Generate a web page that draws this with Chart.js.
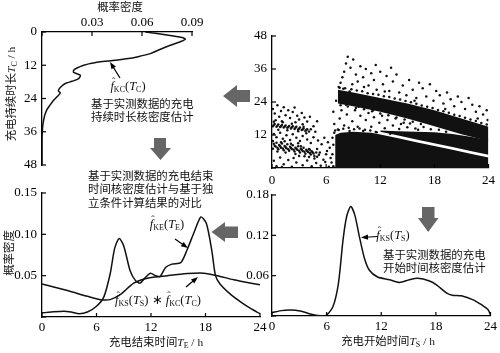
<!DOCTYPE html>
<html>
<head>
<meta charset="utf-8">
<script src="https://cdn.jsdelivr.net/npm/chart.js@4.4.0/dist/chart.umd.min.js"></script>
<style>
body { margin: 0; background: #fff; }
#wrap { position: relative; width: 500px; height: 353px; overflow: hidden; color: #111;
        font-family: "Liberation Serif", "Noto Sans CJK SC", serif; }
#wrap canvas { position: absolute; left: 0; top: 0; }
.t { position: absolute; white-space: nowrap; font-size: 11.4px; line-height: 13.3px; }
.c { transform: translate(-50%, -50%); }
.rot { transform: translate(-50%, -50%) rotate(-90deg); }
.m { font-size: 12.5px; }
sub { font-size: 8px; vertical-align: -2px; line-height: 0; }
.hat { position: relative; display: inline-block; font-style: italic; }
.hat::before { content: "\02C6"; position: absolute; left: 1.5px; top: -5px; font-size: 10px; font-style: normal; }
</style>
</head>
<body>
<div id="wrap">
  <canvas id="c1" width="500" height="353"></canvas>
  <canvas id="c2" width="500" height="353"></canvas>
  <canvas id="c3" width="500" height="353"></canvas>
  <canvas id="c4" width="500" height="353"></canvas>
  <canvas id="ov" width="500" height="353"></canvas>

  <div class="t c" style="left:120px;top:8px;">概率密度</div>
  <div class="t rot" style="left:12px;top:94px;">充电持续时长<i>T</i><sub>C</sub> / h</div>
  <div class="t c m" style="left:128px;top:87px;"><span class="hat">f</span><sub>KC</sub>(<i>T</i><sub>C</sub>)</div>
  <div class="t" style="left:91px;top:98px;">基于实测数据的充电<br>持续时长核密度估计</div>
  <div class="t" style="left:88px;top:170px;">基于实测数据的充电结束<br>时间核密度估计与基于独<br>立条件计算结果的对比</div>

  <div class="t rot" style="left:10px;top:253px;">概率密度</div>
  <div class="t c m" style="left:167px;top:225px;"><span class="hat">f</span><sub>KE</sub>(<i>T</i><sub>E</sub>)</div>
  <div class="t c m" style="left:158px;top:301px;"><span class="hat">f</span><sub>KS</sub>(<i>T</i><sub>S</sub>) ∗ <span class="hat">f</span><sub>KC</sub>(<i>T</i><sub>C</sub>)</div>
  <div class="t c" style="left:156px;top:343px;">充电结束时间<i>T</i><sub>E</sub> / h</div>

  <div class="t c m" style="left:393px;top:236px;"><span class="hat">f</span><sub>KS</sub>(<i>T</i><sub>S</sub>)</div>
  <div class="t" style="left:383px;top:249px;">基于实测数据的充电<br>开始时间核密度估计</div>
  <div class="t c" style="left:388px;top:342px;">充电开始时间<i>T</i><sub>S</sub> / h</div>
</div>

<script>
// charging duration density (top left, drawn sideways)
const kcTime = [0, 1, 2, 2.6, 3.5, 4.8, 6.5, 7.8, 9, 9.6, 10.2, 10.8, 11.5, 12, 13, 13.8, 14.6, 15.6, 16.8, 17.8, 18.6, 20, 21.2, 22, 23.4, 24.6, 26.4, 28.2, 30.6, 34.2, 39, 48];
const kcDensity = [0.062, 0.074, 0.084, 0.086, 0.083, 0.077, 0.070, 0.065, 0.057, 0.052, 0.044, 0.034, 0.028, 0.025, 0.021, 0.019, 0.019, 0.023, 0.022, 0.018, 0.014, 0.011, 0.0098, 0.011, 0.009, 0.007, 0.0048, 0.0028, 0.0014, 0.0004, 0, 0];

// charging end time: measured kernel estimate and independent-condition result
const keTime = [0, 1, 2.4, 3.2, 4.1, 5.0, 6.0, 6.8, 7.5, 8.0, 8.5, 9.0, 9.7, 10.3, 10.8, 11.4, 11.95, 12.5, 13.0, 13.6, 14.3, 15.3, 16.0, 16.8, 17.5, 18.1, 18.7, 19.1, 19.6, 20.8, 21.9, 23.0, 24];
const keDensity = [0.005, 0.006, 0.007, 0.006, 0.004, 0.006, 0.013, 0.024, 0.052, 0.083, 0.095, 0.086, 0.056, 0.044, 0.041, 0.048, 0.053, 0.050, 0.049, 0.060, 0.064, 0.066, 0.082, 0.104, 0.121, 0.113, 0.080, 0.050, 0.040, 0.027, 0.018, 0.010, 0.004];
const convTime = [0, 2.8, 5.0, 6.4, 7.5, 8.6, 10.1, 11.6, 13.8, 16, 17.8, 19.3, 21.1, 24];
const convDensity = [0.040, 0.032, 0.025, 0.021, 0.021, 0.027, 0.041, 0.047, 0.050, 0.0525, 0.053, 0.050, 0.045, 0.039];

// charging start time density (bottom right)
const ksTime = [0, 1, 2.0, 3.1, 4.2, 5.3, 6.0, 6.7, 7.3, 7.8, 8.2, 8.65, 9.1, 9.6, 10.15, 10.7, 11.6, 12.9, 14.0, 15.1, 16.0, 17.3, 18.1, 19.2, 19.8, 20.8, 22.1, 23.1, 23.7, 24];
const ksDensity = [0.005, 0.008, 0.009, 0.0075, 0.003, 0.0005, 0.0015, 0.014, 0.049, 0.113, 0.148, 0.163, 0.150, 0.118, 0.086, 0.068, 0.058, 0.054, 0.050, 0.054, 0.056, 0.052, 0.046, 0.034, 0.031, 0.030, 0.024, 0.016, 0.010, 0.0015];

// scatter (start time, duration): dense regions as outlines, loose points as pairs
const bottomMassTime = [7, 7.6, 9, 11, 12, 14, 16, 18, 20, 22, 24];
const bottomMassTop = [12.0, 12.8, 13.2, 12.8, 12.2, 10.8, 9.4, 8.0, 6.6, 5.2, 3.8];
const midBandTime = [12, 14, 16, 18, 20, 22, 24];
const midBandLow = [13.2, 11.8, 10.4, 9.0, 7.6, 6.2, 4.8];
const midBandHigh = [13.6, 13.4, 13.2, 13.0, 12.4, 11.4, 10.2];
const mainBandTime = [7.3, 9, 12, 15, 18, 21, 24];
const mainBandLow = [23.5, 22.5, 20.5, 18.0, 15.2, 12.3, 9.8];
const mainBandHigh = [28.5, 27.5, 25.5, 23.5, 21.0, 18.0, 15.0];

const leftBandDots = [
  [0.1,15.2],[0.3,16.0],[0.5,15.0],[0.7,15.8],[0.9,14.9],[1.1,15.6],[1.3,14.7],[1.5,15.5],[1.7,14.6],[1.9,15.3],
  [2.1,14.4],[2.3,15.2],[2.5,14.2],[2.7,15.0],[2.9,14.0],[3.1,14.7],[3.3,13.8],[3.5,14.4],[3.7,13.5],[3.9,14.1],
  [4.1,13.3],[0.2,15.6],[0.6,15.4],[1.0,15.2],[1.4,15.0],[1.8,14.9],[2.2,14.8],[2.6,14.6],[3.0,14.3],[3.4,14.0],
  [3.8,13.8],
  [0.1,7.0],[0.2,8.8],[0.4,7.8],[0.5,9.2],[0.7,6.8],[0.8,8.4],[1.0,7.4],[1.1,8.9],[1.3,6.5],[1.4,8.0],
  [1.6,7.2],[1.7,8.6],[1.9,6.3],[2.0,7.7],[2.2,6.9],[2.3,8.3],[2.5,6.0],[2.6,7.4],[2.8,6.6],[2.9,7.9],
  [3.1,5.6],[3.2,7.0],[3.4,6.2],[3.5,7.4],[3.7,5.2],[3.8,6.6],[4.0,5.8],[4.1,6.9],[4.3,4.9],[4.4,6.1],
  [4.6,5.3],[4.7,4.4],[4.9,5.6],[5.0,4.1],[5.2,4.8],[0.3,8.1],[0.9,7.9],[1.5,7.6],[2.1,7.3],[2.7,7.0],
  [3.3,6.6],[3.9,6.2],[4.5,5.7],[0.6,7.4],[1.2,7.1],[1.8,6.8],[2.4,6.6],[3.0,6.3],[3.6,5.9],[4.2,5.5]
];
const looseLeft = [
  [0.1,21.5],[0.3,19.8],[0.6,22.8],[0.8,18.6],[1.0,20.7],[1.3,22.1],[1.5,19.2],[1.8,21.0],[2.0,18.2],[2.3,20.4],
  [2.5,22.0],[2.8,19.0],[3.0,17.6],[3.3,20.0],[3.6,18.4],[3.9,16.9],[4.2,18.6],[0.4,17.4],[1.1,17.0],[2.6,16.6],
  [3.4,15.9],[4.6,15.2],[5.0,17.0],[4.8,13.2],[0.2,16.8],[0.7,13.9],[1.2,16.6],[1.7,13.7],[2.2,16.1],[2.9,13.4],
  [3.5,15.0],[3.8,12.6],[4.3,14.1],[0.2,12.4],[0.5,11.2],[0.9,12.8],[1.2,10.6],[1.6,11.9],[2.0,10.2],[2.3,12.3],
  [2.7,11.0],[3.1,9.8],[3.4,11.6],[3.9,10.4],[4.3,9.1],[4.6,11.2],[5.1,10.0],[5.5,8.6],[5.8,11.0],[6.2,9.4],
  [6.4,7.4],[1.4,9.7],[2.9,9.0],[0.1,9.8],[0.6,6.0],[1.0,9.4],[1.5,5.6],[2.1,8.8],[2.6,5.1],[3.2,7.9],
  [3.6,4.3],[4.2,6.6],[4.7,3.5],[5.3,5.6],[5.7,3.0],[6.0,5.0],[0.2,2.6],[0.5,0.6],[0.9,3.8],[1.3,1.4],
  [1.8,2.9],[2.2,0.5],[2.7,2.0],[3.0,4.4],[3.4,1.0],[3.9,2.7],[4.4,0.6],[4.9,1.8],[5.4,0.8],[5.9,2.2],
  [6.3,0.5],[6.5,3.6],[1.1,0.4],[2.4,3.6],[4.1,4.0],[5.0,6.9],[6.1,6.2]
];
const looseRight = [
  [7.4,29.5],[7.6,31],[7.8,33],[8.0,35],[8.2,38],[8.4,40.5],[8.7,36.5],[9.0,39.5],[9.3,34],[9.5,31.5],
  [9.8,37],[10.1,33],[10.4,36],[10.7,30],[11.0,34.5],[11.3,32],[11.6,28.5],[12.0,35],[12.3,30.5],[12.7,33.5],
  [13.0,28],[13.4,31.5],[13.8,34],[14.1,27.5],[14.5,30],[14.9,26.5],[15.2,32],[15.6,28.5],[16.0,25.5],[16.3,31],
  [16.7,29],[17.1,26],[17.5,30.5],[17.9,24.5],[18.2,28],[18.6,26.5],[19.0,23.5],[19.4,27.5],[19.8,25],[20.2,22.5],
  [20.6,26],[21.0,24],[21.4,21.5],[21.8,25.5],[22.2,23],[22.6,20.5],[23.0,22.5],[23.4,19.5],[23.8,21],[23.9,17.5],
  [8.9,30.5],[10.2,29.5],[12.5,27.8],[15.8,24.5],[19.2,21.5],[22.8,18],[7.9,28.8],[11.5,37.5],[13.2,36.5],[8.6,27.8],
  [7.5,29.2],[8.1,29.0],[8.8,28.6],[9.4,28.2],[10.0,27.9],[10.6,27.2],[11.2,26.9],[11.8,26.6],[12.4,26.1],[13.0,25.8],
  [13.6,25.3],[14.2,24.9],[14.8,24.4],[15.4,23.9],[16.0,23.4],[16.6,22.7],[17.2,22.3],[17.8,21.8],[18.4,21.1],[19.0,20.6],
  [19.6,20.1],[20.2,19.4],[20.8,18.9],[21.4,18.3],[22.0,17.6],[22.6,17.1],[23.2,16.4],[23.8,15.8],
  [7.3,14],[7.5,18],[7.7,21],[8.0,15.5],[8.3,19.5],[8.6,13.5],[8.9,17],[9.2,21],[9.5,15],[9.8,19],
  [10.1,13.5],[10.4,17.5],[10.7,20],[11.0,15],[11.3,18.5],[11.6,13],[11.9,16.5],[12.2,19],[12.5,14.5],[12.8,17.5],
  [13.1,12.5],[13.4,15.5],[13.7,18],[14.3,16.0],[14.6,16.5],[15.3,16.2],[8.2,23],[9.6,22.3],[11.2,21],[6.9,16],
  [6.8,20.5],[7.1,24.5],[7.6,22.8],[8.4,22.4],[9.3,21.8],[10.2,21.4],[11.1,20.6],[12.0,19.8],[12.9,19.2],[13.8,18.4],
  [14.7,17.6],[15.6,16.8],[16.5,16.0],[6.6,2.0],[6.7,5.0],[6.8,8.5],[6.7,11.0],[6.9,12.8],[6.8,0.6],[7.0,13.6],
  [7.4,13.8],[7.9,14.3],[8.5,14.6],[9.1,14.1],[9.7,14.4],[10.3,13.9],[10.9,13.6],[11.5,13.1],
  [14.1,14.2],[15.0,14.8],[15.9,14.4],[16.8,14.9],[17.6,14.1],[18.5,13.9],[19.3,13.2],[16.2,13.9]
];

const ink = '#111';
const tickFont = { family: 'Liberation Serif', size: 13 };
const pts = (xs, ys) => xs.map((x, i) => ({ x: x, y: ys[i] }));
const pairs = arr => arr.map(p => ({ x: p[0], y: p[1] }));

// ticks pointing into the plot, as in the original
const inwardTicks = {
    id: 'inwardTicks',
    afterDraw(chart) {
        const ctx = chart.ctx;
        ctx.save();
        ctx.strokeStyle = '#000';
        ctx.lineWidth = 1.2;
        Object.values(chart.scales).forEach(s => {
            s.ticks.forEach(t => {
                const p = s.getPixelForValue(t.value);
                ctx.beginPath();
                if (s.position === 'left') { ctx.moveTo(s.right, p); ctx.lineTo(s.right + 4, p); }
                else if (s.position === 'top') { ctx.moveTo(p, s.bottom); ctx.lineTo(p, s.bottom + 4); }
                else { ctx.moveTo(p, s.top); ctx.lineTo(p, s.top - 4); }
                ctx.stroke();
            });
        });
        ctx.restore();
    }
};

const curve = data => ({ data, showLine: true, borderColor: ink, borderWidth: 1.5, pointRadius: 0, tension: 0.25, fill: false });

function axis(min, max, step, opts, fmt, pad) {
    return Object.assign({
        type: 'linear', min, max,
        grid: { display: false, drawTicks: false },
        border: { display: true, color: '#000', width: 1.3 },
        ticks: { stepSize: step, font: tickFont, color: '#000', padding: pad, maxRotation: 0, callback: fmt }
    }, opts);
}

// area = chart area in page pixels
function makeChart(id, datasets, x, y, area) {
    const wY = 40, hX = 22;
    const top = x.position === 'top';
    x.afterFit = s => { s.height = hX; };
    y.afterFit = s => { s.width = wY; };
    return new Chart(document.getElementById(id), {
        type: 'line',
        data: { datasets },
        options: {
            responsive: false, animation: false, devicePixelRatio: 1,
            layout: { padding: {
                left: area.l - wY, right: 500 - area.r,
                top: top ? area.t - hX : area.t,
                bottom: top ? 353 - area.b : 353 - area.b - hX } },
            plugins: { legend: { display: false }, tooltip: { enabled: false } },
            scales: { x, y }
        },
        plugins: [inwardTicks]
    });
}

const dec2 = v => (v === 0 ? '' : v.toFixed(2));
const hours = v => String(v);
const hoursNoZero = v => (v === 0 ? '' : String(v));

// top left: duration density
makeChart('c1', [curve(pts(kcDensity, kcTime))],
    axis(0, 0.09, 0.03, { position: 'top' }, dec2, 2),
    axis(0, 48, 12, { position: 'left', reverse: true }, hours, 5),
    { l: 42, r: 192, t: 32, b: 165 });

// top right: start time vs duration scatter
const band = (xs, ys, fill) => ({ data: pts(xs, ys), showLine: true, borderWidth: 0, borderColor: ink,
    backgroundColor: ink, pointRadius: 0, tension: 0, fill });
const dots = arr => ({ data: pairs(arr), showLine: false, pointRadius: 1.25, pointBackgroundColor: ink,
    pointBorderWidth: 0, fill: false });
makeChart('c2', [
        dots(looseLeft), dots(leftBandDots), dots(looseRight),
        band(bottomMassTime, bottomMassTop, 'origin'),
        band(midBandTime, midBandHigh, '+1'), band(midBandTime, midBandLow, false),
        band(mainBandTime, mainBandHigh, '+1'), band(mainBandTime, mainBandLow, false)
    ],
    axis(0, 24, 6, { position: 'bottom' }, hours, 5),
    axis(0, 48, 12, { position: 'left' }, hoursNoZero, 5),
    { l: 272, r: 492, t: 36, b: 168 });

// bottom left: end time densities
makeChart('c3', [curve(pts(keTime, keDensity)), curve(pts(convTime, convDensity))],
    axis(0, 24, 6, { position: 'bottom' }, hours, 3),
    axis(0, 0.15, 0.05, { position: 'left' }, dec2, 5),
    { l: 42, r: 260, t: 193, b: 317 });

// bottom right: start time density
makeChart('c4', [curve(pts(ksTime, ksDensity))],
    axis(0, 24, 6, { position: 'bottom' }, hours, 3),
    axis(0, 0.18, 0.06, { position: 'left' }, dec2, 3),
    { l: 272, r: 492, t: 195, b: 316 });

// grey flow arrows and small pointers
const ov = document.getElementById('ov').getContext('2d');
const poly = (p, color) => {
    ov.fillStyle = color;
    ov.beginPath();
    p.forEach((q, i) => (i ? ov.lineTo(q[0], q[1]) : ov.moveTo(q[0], q[1])));
    ov.closePath();
    ov.fill();
};
const grey = '#666';
poly([[223,96],[237,85],[237,90],[250,90],[250,102],[237,102],[237,107]], grey);
poly([[154,138],[166,138],[166,148],[171,148],[160.5,160],[150,148],[154,148]], grey);
poly([[211.5,232],[225,222],[225,226.5],[238,226.5],[238,238],[225,238],[225,242]], grey);
poly([[422,207],[434.5,207],[434.5,218],[438.5,218],[428.2,232],[418,218],[422,218]], grey);

const pointer = (x0, y0, x1, y1) => {
    const a = Math.atan2(y1 - y0, x1 - x0);
    ov.strokeStyle = '#000';
    ov.lineWidth = 1.2;
    ov.beginPath();
    ov.moveTo(x0, y0);
    ov.lineTo(x1 - 4 * Math.cos(a), y1 - 4 * Math.sin(a));
    ov.stroke();
    poly([[x1, y1],
          [x1 - 7 * Math.cos(a) + 2.6 * Math.sin(a), y1 - 7 * Math.sin(a) - 2.6 * Math.cos(a)],
          [x1 - 7 * Math.cos(a) - 2.6 * Math.sin(a), y1 - 7 * Math.sin(a) + 2.6 * Math.cos(a)]], '#000');
};
pointer(120, 78, 110, 62);
pointer(175, 239, 188, 248);
pointer(186, 287, 198, 277);
pointer(378, 236.5, 361, 237.5);
</script>
</body>
</html>
